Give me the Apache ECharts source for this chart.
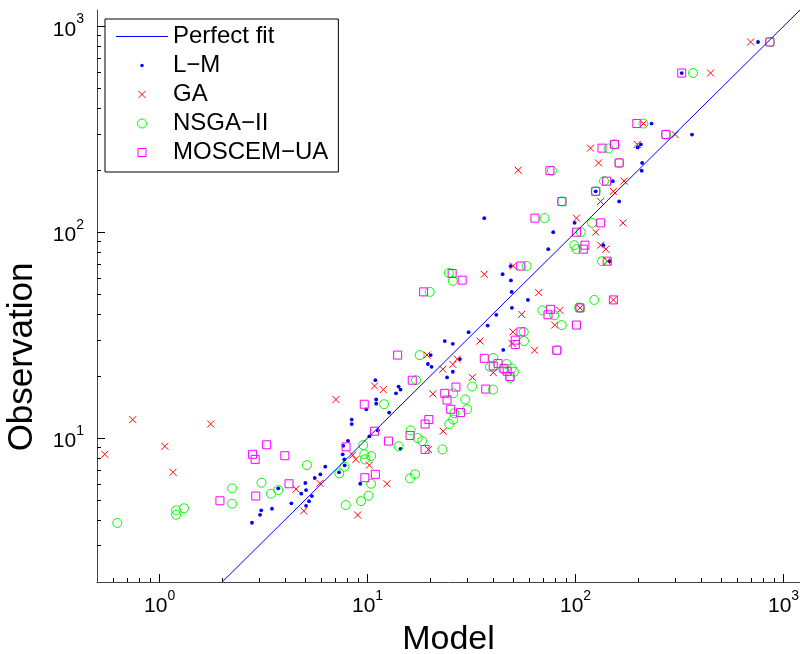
<!DOCTYPE html>
<html>
<head>
<meta charset="utf-8">
<script src="https://cdn.jsdelivr.net/npm/echarts@6/dist/echarts.min.js"></script>
<style>
  html, body { margin: 0; padding: 0; background: #fff; }
  #chart { width: 800px; height: 654px; }
</style>
</head>
<body>
<div id="chart"></div>
<script>
// Model vs. observation, log-log, one series per calibration method.
const seriesNames = ['Perfect fit', 'L\u2212M', 'GA', 'NSGA\u2212II', 'MOSCEM\u2212UA'];

// 1:1 reference line end values (x = y)
const fitLine = [2, 1200];

// [model, observation]
const lmPoints = [
  [3.08,4.46],[3.04,4.24],[3.47,4.54],[2.78,3.88],[11.0,15.4],[11.0,14.7],[9.86,13.8],[12.7,13.3],
  [8.39,12.3],[8.39,11.7],[11.2,10.9],[10.2,10.2],[8.05,9.7],[7.64,9.18],[7.59,8.34],[7.73,7.88],
  [7.76,7.37],[7.29,6.82],[6.26,7.26],[5.93,6.67],[5.57,6.4],[5.02,6.05],[5.06,5.59],[4.8,5.37],
  [5.4,5.23],[5.23,4.94],[5.06,4.69],[4.3,4.82],[3.72,5.7],[9.22,6.0],[14.4,8.87],[20.1,25.3],
  [19.5,22.9],[20.3,22.2],[10.9,19.1],[14.1,17.8],[14.4,17.2],[13.7,16.5],[44.6,62.5],[48.9,58.3],
  [49.3,51.3],[59.0,46.9],[49.4,42.9],[41.6,39.7],[37.8,35.2],[30.6,32.7],[23.5,29.6],[25.7,28.7],
  [27.8,24.2],[25.7,21.0],[24.1,19.7],[44.9,26.8],[36.4,117],[78.1,100],[73.9,82.7],[99,111],
  [48.7,68.5],[199,258],[209,217],[208,199],[151,177],[125,158],[162,141],[136,86.5],[146,72.3],
  [754,839],[324,593],[232,337],[363,298],[206,267]
];

const gaPoints = [
  [0.743,12.3],[1.76,11.7],[0.545,8.34],[1.06,9.12],[1.16,6.82],[7.05,15.4],[4.53,5.65],[5.9,6.03],
  [4.93,4.43],[8.48,8.27],[8.79,7.88],[10.2,7.39],[12.4,6.0],[8.96,4.23],[20.6,16.4],[23.1,10.8],
  [19.6,8.81],[19.3,25.3],[10.8,17.9],[11.9,17.2],[36.4,62.5],[66.5,50.9],[55.1,39.9],[34.7,29.6],
  [27.0,24.2],[25.7,22.8],[23.0,21.6],[31.9,19.7],[50.0,32.8],[49.6,28.8],[63.5,26.7],[84.1,41.7],
  [79.4,35.4],[40.2,20.8],[105,42.9],[152,46.9],[53.0,200],[101,117],[50.2,68.5],[118,256],
  [129,217],[171,177],[152,158],[132,141],[169,111],[125,100],[132,86.5],[140,82.7],[142,72.3],
  [695,839],[446,593],[212,337],[301,298],[198,267]
];

const nsgaPoints = [
  [0.626,3.87],[1.2,4.46],[1.2,4.24],[1.31,4.56],[2.23,5.7],[2.23,4.8],[3.09,6.07],[3.43,5.37],
  [3.72,5.59],[12.0,14.6],[16.1,10.9],[17.4,10.0],[14.1,9.12],[9.53,9.25],[9.64,8.34],[10.4,8.18],
  [9.72,7.88],[5.11,7.39],[7.31,6.74],[7.73,7.26],[10.4,6.0],[16.0,6.37],[16.9,6.67],[10.1,5.25],
  [9.3,4.94],[7.85,4.73],[31.8,17.8],[40.1,17.2],[25.8,16.5],[29.5,15.4],[30.1,13.8],[26.1,13.2],
  [25.8,12.3],[24.7,11.7],[18.3,9.67],[22.9,8.81],[19.9,51.3],[17.8,25.3],[17.1,19.1],[24.6,63.4],
  [25.7,58.0],[56.3,32.8],[56.5,29.6],[81.8,26.7],[69.2,41.7],[79.0,39.5],[85.8,35.4],[104,43.1],
  [40.2,24.5],[38.8,22.2],[46.6,22.9],[44.9,21.6],[48.4,19.6],[50.6,21.0],[49.3,21.8],[123,46.9],
  [105,42.9],[77.0,199],[86.0,141],[71.0,117],[98.6,86.5],[101,82.7],[58.2,68.5],[144,255],
  [162,217],[137,177],[125,158],[120,111],[106,100],[134,72.3],[860,839],[367,593],[212,337],
  [272,298],[154,267]
];

const moscemPoints = [
  [3.27,9.28],[2.8,8.34],[2.88,7.88],[1.95,4.96],[2.9,5.23],[9.64,14.6],[10.8,10.8],[12.6,9.67],
  [16.0,10.3],[7.88,9.07],[4.0,8.21],[4.19,6.0],[9.7,6.42],[10.9,6.67],[26.6,17.7],[37.0,17.3],
  [23.5,16.5],[24.1,15.3],[25.1,13.8],[28.0,13.3],[19.7,12.3],[18.9,11.7],[18.9,8.81],[18.6,51.3],
  [13.95,25.3],[16.4,19.1],[25.5,63.0],[28.5,58.5],[54.6,32.8],[51.3,29.9],[51.3,28.5],[81.2,26.7],
  [75.9,42.2],[73.7,39.7],[101,35.4],[36.4,24.4],[40.2,22.4],[42.4,23.0],[45.3,21.8],[46.9,21.1],
  [48.4,19.9],[152,46.9],[105,42.9],[75.3,199],[86.0,141],[63.8,117],[101,100],[54.5,68.5],
  [134,256],[162,217],[141,177],[125,158],[132,111],[111,86.5],[109,82.7],[142,72.3],
  [860,839],[324,593],[197,337],[272,298],[154,267]
];

// Axis limits and labelled decades
const xRange = [0.5, 1200];
const yRange = [2, 1200];
const xDecades = [1, 10, 100, 1000];
const yDecades = [10, 100, 1000];

const FONT = "'Liberation Sans', Arial, Helvetica, sans-serif";

function powLabel(v) {
  const e = Math.round(Math.log10(v));
  return '{b|10}{s|' + e + '}';
}
const labelRich = {
  b: { fontSize: 21, fontFamily: FONT, color: '#000', lineHeight: 28, verticalAlign: 'bottom' },
  s: { fontSize: 14, fontFamily: FONT, color: '#000', lineHeight: 10, verticalAlign: 'top' }
};

const axisCommon = {
  type: 'log',
  logBase: 10,
  axisLine: { show: true, lineStyle: { color: '#444', width: 1 } },
  axisTick: { show: true, inside: true, length: 8, lineStyle: { color: '#000', width: 1 } },
  minorTick: { show: true, splitNumber: 9, length: 4, lineStyle: { color: '#000', width: 1 } },
  splitLine: { show: false },
  minorSplitLine: { show: false }
};

// Legend icons drawn in a fixed box so every marker keeps its own size
const ICON_LINE = 'path://M0,0M52,14M0,6.5L52,6.5L52,7.5L0,7.5Z';
const ICON_DOT = 'path://M0,0M14,14M8.75,7A1.75,1.75,0,1,1,5.25,7A1.75,1.75,0,1,1,8.75,7Z';
const ICON_X = 'path://M0,0M14,14M3.5,3.5L10.5,10.5M10.5,3.5L3.5,10.5';
const ICON_O = 'path://M0,0M14,14M11.5,7A4.5,4.5,0,1,1,2.5,7A4.5,4.5,0,1,1,11.5,7Z';
const ICON_SQ = 'path://M0,0M14,14M3,3L11,3L11,11L3,11Z';

const chart = echarts.init(document.getElementById('chart'), null, { renderer: 'canvas' });

chart.setOption({
  animation: false,
  backgroundColor: '#fff',
  grid: { left: 97, right: 0, top: 10, bottom: 72, containLabel: false, outerBoundsMode: 'none' },
  legend: {
    orient: 'vertical',
    left: 105,
    top: 19,
    padding: [3, 10, 5, 11],
    itemGap: 0,
    itemWidth: 52,
    itemHeight: 14,
    borderColor: '#000',
    borderWidth: 1,
    borderRadius: 0,
    backgroundColor: '#fff',
    selectedMode: false,
    itemStyle: { borderWidth: 1 },
    textStyle: { fontSize: 24, fontFamily: FONT, color: '#000', lineHeight: 29 },
    data: [
      { name: seriesNames[0], icon: ICON_LINE, itemStyle: { color: '#0000ff', borderWidth: 0 } },
      { name: seriesNames[1], icon: ICON_DOT },
      { name: seriesNames[2], icon: ICON_X },
      { name: seriesNames[3], icon: ICON_O },
      { name: seriesNames[4], icon: ICON_SQ }
    ]
  },
  xAxis: Object.assign({}, axisCommon, {
    min: xRange[0],
    max: xRange[1],
    name: 'Model',
    nameLocation: 'middle',
    nameGap: 33,
    nameTextStyle: { fontSize: 34, fontFamily: FONT, color: '#000', lineHeight: 36 },
    axisTick: Object.assign({}, axisCommon.axisTick, { customValues: xDecades }),
    axisLabel: { customValues: xDecades, margin: 7, formatter: powLabel, rich: labelRich }
  }),
  yAxis: Object.assign({}, axisCommon, {
    min: yRange[0],
    max: yRange[1],
    name: 'Observation',
    nameLocation: 'middle',
    nameRotate: 90,
    nameGap: 55,
    nameTextStyle: { fontSize: 35, fontFamily: FONT, color: '#000', lineHeight: 40, padding: [0, 122, 0, 0] },
    axisTick: Object.assign({}, axisCommon.axisTick, { customValues: yDecades }),
    axisLabel: { customValues: yDecades, margin: 13, formatter: powLabel, rich: labelRich }
  }),
  series: [
    {
      name: seriesNames[0],
      type: 'line',
      data: fitLine.map(v => [v, v]),
      symbol: 'none',
      lineStyle: { color: '#0000ff', width: 1 },
      itemStyle: { color: '#0000ff' },
      silent: true
    },
    {
      name: seriesNames[1],
      type: 'scatter',
      data: lmPoints,
      symbol: 'circle',
      symbolSize: 3.8,
      itemStyle: { color: '#0000ff', opacity: 1 }
    },
    {
      name: seriesNames[2],
      type: 'scatter',
      data: gaPoints,
      symbol: 'path://M0,0L10,10M10,0L0,10',
      symbolSize: 7,
      itemStyle: { color: '#ff0000', borderColor: '#ff0000', borderWidth: 1, opacity: 1 }
    },
    {
      name: seriesNames[3],
      type: 'scatter',
      data: nsgaPoints,
      symbol: 'circle',
      symbolSize: 9,
      itemStyle: { color: 'rgba(0,0,0,0)', borderColor: '#00ff00', borderWidth: 1, opacity: 1 }
    },
    {
      name: seriesNames[4],
      type: 'scatter',
      data: moscemPoints,
      symbol: 'rect',
      symbolSize: 8,
      itemStyle: { color: 'rgba(0,0,0,0)', borderColor: '#ff00ff', borderWidth: 1, opacity: 1 }
    }
  ]
});
</script>
</body>
</html>
